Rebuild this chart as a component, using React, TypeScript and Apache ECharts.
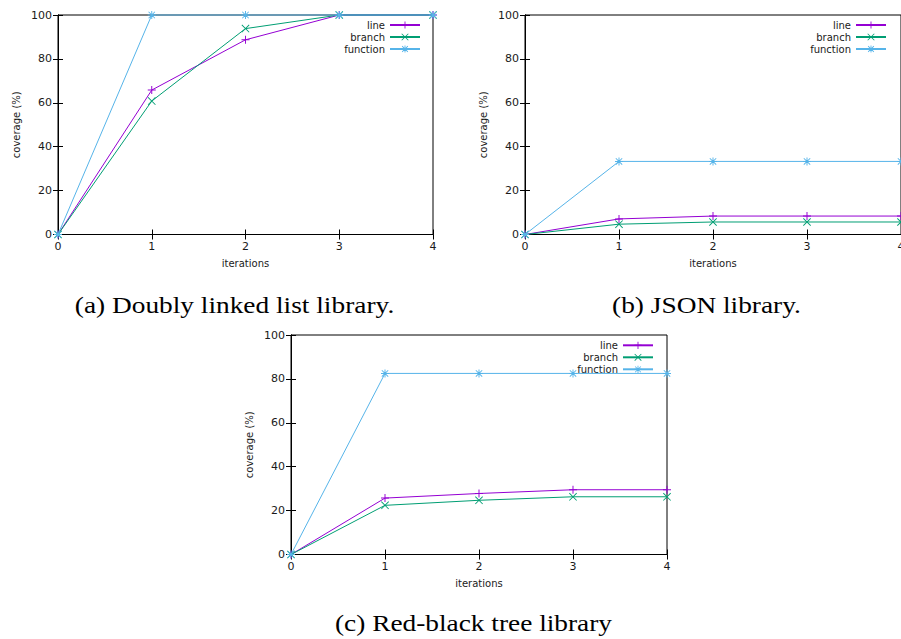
import React, { useEffect, useRef } from "react";
import * as echarts from "echarts";

const iterations = [0, 1, 2, 3, 4];
const seriesNames = ["line", "branch", "function"];
const seriesColors = ["#9400d3", "#009e73", "#56b4e9"];

// (a) Doubly linked list library
const dllLine = [0, 65.8, 88.7, 100, 100];
const dllBranch = [0, 60.8, 93.8, 100, 100];
const dllFunction = [0, 100, 100, 100, 100];

// (b) JSON library
const jsonLine = [0, 7.1, 8.4, 8.4, 8.4];
const jsonBranch = [0, 4.7, 5.7, 5.7, 5.7];
const jsonFunction = [0, 33.3, 33.3, 33.3, 33.3];

// (c) Red-black tree library
const rbLine = [0, 25.7, 27.8, 29.5, 29.5];
const rbBranch = [0, 22.4, 24.7, 26.3, 26.3];
const rbFunction = [0, 82.5, 82.5, 82.5, 82.5];

const captions = [
  "(a) Doubly linked list library.",
  "(b) JSON library.",
  "(c) Red-black tree library",
];
const yTicks = [0, 20, 40, 60, 80, 100];

const PLUS = "path://M4.4,0H5.6V4.4H10V5.6H5.6V10H4.4V5.6H0V4.4H4.4Z";
const CROSS =
  "path://M0,0.8L0.8,0L10,9.2L9.2,10ZM9.2,0L10,0.8L0.8,10L0,9.2Z";
const STAR =
  "path://M4.4,0H5.6V4.4H10V5.6H5.6V10H4.4V5.6H0V4.4H4.4ZM0.6,1.4L1.4,0.6L9.4,8.6L8.6,9.4ZM8.6,0.6L9.4,1.4L1.4,9.4L0.6,8.6Z";
const symbols = [PLUS, CROSS, STAR];

const TEXT = "#1a1a1a";
const SANS = "DejaVu Sans";

export default function App() {
  const ref = useRef<HTMLDivElement>(null);
  useEffect(() => {
    if (!ref.current) return;
    const chart = echarts.init(ref.current, undefined, { renderer: "svg" });

    const grids = [
      { left: 58, top: 15, width: 375, height: 219.5 },
      { left: 525, top: 15, width: 376, height: 219.5 },
      { left: 291, top: 335, width: 376, height: 219.5 },
    ];
    const datasets = [
      [dllLine, dllBranch, dllFunction],
      [jsonLine, jsonBranch, jsonFunction],
      [rbLine, rbBranch, rbFunction],
    ];
    const legendPos = [
      { right: 480, top: 20 },
      { right: 14, top: 20 },
      { right: 247, top: 340.3 },
    ];
    const captionPos = [
      { x: 234.5, y: 305 },
      { x: 706.5, y: 305 },
      { x: 473.5, y: 623 },
    ];

    const xAxes: any[] = [];
    const yAxes: any[] = [];
    const series: any[] = [];
    grids.forEach((g, gi) => {
      const base = {
        type: "value",
        gridIndex: gi,
        min: 0,
        splitLine: { show: false },
      };
      xAxes.push({
        ...base,
        max: 4,
        interval: 1,
        position: "bottom",
        name: "iterations",
        nameLocation: "middle",
        nameGap: 24,
        nameTextStyle: { fontFamily: SANS, fontSize: 10, color: TEXT },
        axisLine: { show: true, lineStyle: { color: "#000", width: 1 } },
        axisTick: { show: true, inside: true, length: 5, lineStyle: { color: "#000" } },
        axisLabel: { fontFamily: SANS, fontSize: 11, color: TEXT, margin: 6, showMaxLabel: true },
      });
      xAxes.push({
        ...base,
        max: 4,
        interval: 1,
        position: "top",
        axisLine: { show: true, lineStyle: { color: "#000", width: 1 } },
        axisTick: { show: true, inside: true, length: 5, lineStyle: { color: "#000" } },
        axisLabel: { show: false },
      });
      yAxes.push({
        ...base,
        max: 100,
        interval: 20,
        position: "left",
        name: "coverage (%)",
        nameLocation: "middle",
        nameGap: 37,
        nameTextStyle: { fontFamily: SANS, fontSize: 10, color: TEXT },
        axisLine: { show: true, lineStyle: { color: "#000", width: 1 } },
        axisTick: { show: true, inside: true, length: 5, lineStyle: { color: "#000" } },
        axisLabel: {
          fontFamily: SANS,
          fontSize: 11,
          color: TEXT,
          margin: 6,
          formatter: (v: number) => (yTicks.includes(v) ? String(v) : ""),
        },
      });
      yAxes.push({
        ...base,
        max: 100,
        interval: 20,
        position: "right",
        axisLine: { show: true, lineStyle: { color: "#000", width: 1 } },
        axisTick: { show: true, inside: true, length: 5, lineStyle: { color: "#000" } },
        axisLabel: { show: false },
      });
      datasets[gi].forEach((vals, si) => {
        series.push({
          type: "line",
          name: seriesNames[si],
          xAxisIndex: gi * 2,
          yAxisIndex: gi * 2,
          data: iterations.map((x, i) => [x, vals[i]]),
          symbol: symbols[si],
          symbolSize: 8,
          showAllSymbol: true,
          clip: false,
          color: seriesColors[si],
          lineStyle: { color: seriesColors[si], width: 1 },
          itemStyle: { color: seriesColors[si] },
          z: 3 + si,
        });
      });
    });

    const legends = legendPos.map((p) => ({
      ...p,
      orient: "vertical",
      align: "right",
      padding: 0,
      itemWidth: 30,
      itemHeight: 9,
      itemGap: 2,
      selectedMode: false,
      data: seriesNames,
      textStyle: { fontFamily: SANS, fontSize: 10, color: TEXT, lineHeight: 10 },
    }));

    chart.setOption({
      animation: false,
      backgroundColor: "#fff",
      grid: grids.map((g) => ({
        ...g,
        show: true,
        borderColor: "#000",
        borderWidth: 1,
        backgroundColor: "transparent",
        containLabel: false,
        outerBoundsMode: "none",
      })),
      xAxis: xAxes,
      yAxis: yAxes,
      legend: legends,
      series,
      graphic: captions.map((c, i) => ({
        type: "text",
        x: captionPos[i].x,
        y: captionPos[i].y,
        scaleX: 1.14,
        z: 10,
        style: {
          text: c,
          fontFamily: "Liberation Serif",
          fontSize: 24,
          fill: "#000",
          textAlign: "center",
          textVerticalAlign: "middle",
        },
      })),
    });
    return () => chart.dispose();
  }, []);
  return (
    <div
      ref={ref}
      style={{ position: "absolute", left: 0, top: 0, width: 901, height: 639, background: "#fff" }}
    />
  );
}
